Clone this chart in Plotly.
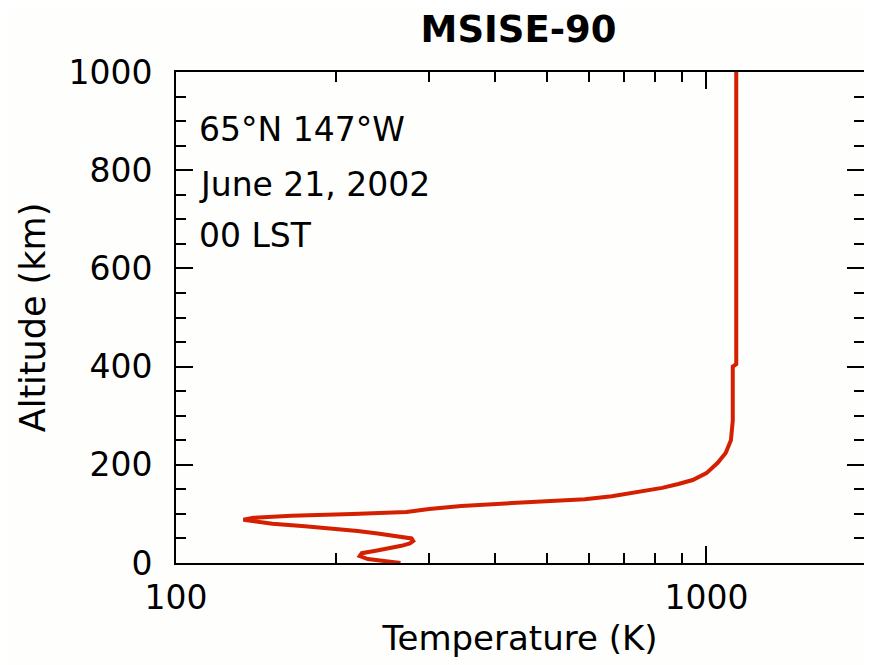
import plotly.graph_objects as go

# Altitude (km) and MSISE-90 temperature (K)
altitude_km = [0, 4, 8, 14, 20, 25, 30, 35, 40, 45, 50, 55, 60, 65, 70, 75, 80, 85, 88,
               92, 96, 100, 104, 110, 116, 122, 126, 130, 136, 143, 149, 153, 161, 169,
               183, 204, 224, 250, 290, 400, 405, 1000]
temperature_K = [265, 250, 230, 222, 224, 238, 254, 266, 276, 280, 278, 260, 240, 220, 198,
                 175, 152, 138, 134, 140, 165, 215, 272, 300, 345, 430, 520, 590, 663, 730,
                 775, 825, 885, 942, 1000, 1050, 1087, 1112, 1121, 1121, 1138, 1138]

x_tickvals = [100, 1000]
x_ticktext = ["100", "1000"]
y_tickvals = [0, 200, 400, 600, 800, 1000]

title_text = "MSISE-90"
info_lines = ["65°N 147°W", "June 21, 2002", "00 LST"]

FONT = "DejaVu Sans"
LINE_RED = "#d42000"

fig = go.Figure()
fig.add_trace(go.Scatter(
    x=temperature_K, y=altitude_km, mode="lines",
    line=dict(color=LINE_RED, width=4), showlegend=False, hoverinfo="skip",
))

axis_common = dict(
    showline=True, linecolor="black", linewidth=2, mirror="allticks",
    ticks="inside", tickcolor="black", tickwidth=2, ticklen=17,
    showgrid=False, zeroline=False,
    tickfont=dict(family=FONT, size=33, color="black"),
)

fig.update_xaxes(
    type="log", range=[2, 3.297],
    tickvals=x_tickvals, ticktext=x_ticktext,
    minor=dict(ticks="inside", ticklen=10, tickwidth=2, tickcolor="black", dtick="D1", showgrid=False),
    title=dict(text="Temperature (K)", font=dict(family=FONT, size=34, color="black"), standoff=11),
    ticklabelstandoff=4,
    **axis_common,
)
fig.update_yaxes(
    range=[0, 1000], tickvals=y_tickvals,
    minor=dict(ticks="inside", ticklen=10, tickwidth=2, tickcolor="black", dtick=50, showgrid=False),
    title=dict(text="Altitude (km)", font=dict(family=FONT, size=35, color="black"), standoff=12),
    ticklabelstandoff=15,
    **axis_common,
)

ys = [0.882, 0.770, 0.668]
for txt, yy in zip(info_lines, ys):
    fig.add_annotation(text=txt, xref="paper", yref="paper", x=0.03, y=yy,
                       xanchor="left", yanchor="middle", showarrow=False,
                       font=dict(family=FONT, size=33, color="black"))

fig.update_layout(
    width=864, height=657,
    margin=dict(l=168, r=6, t=64, b=102),
    paper_bgcolor="#fefefc", plot_bgcolor="#fefefc",
    title=dict(text="<b>" + title_text + "</b>", x=0.591, xanchor="center",
               y=0.968, yanchor="middle", yref="container",
               font=dict(family=FONT, size=37, color="black")),
)

fig.write_html("out.html")
